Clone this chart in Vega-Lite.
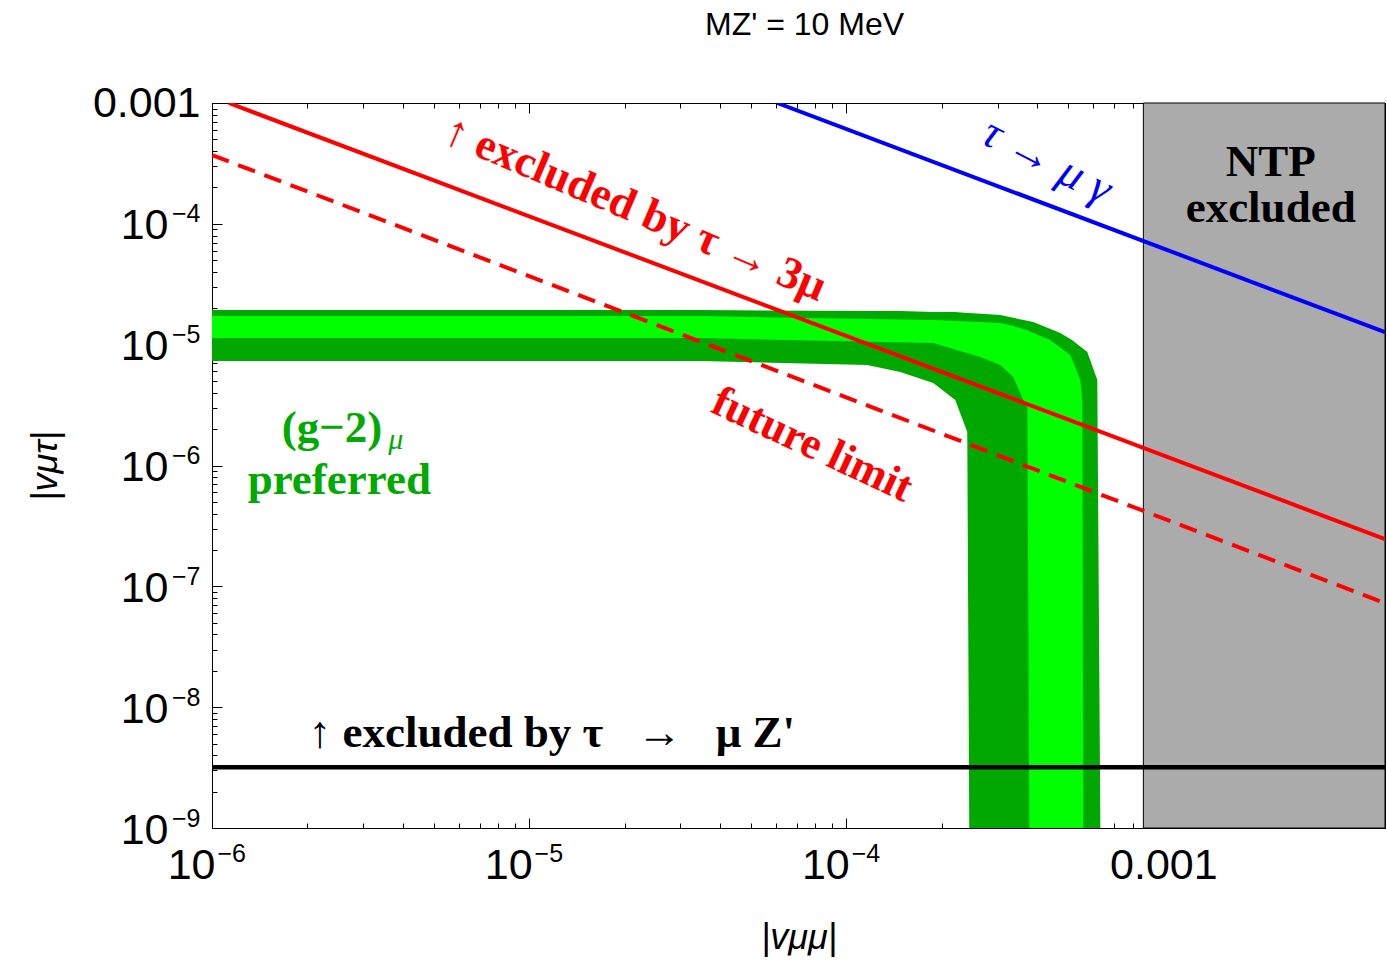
{
  "$schema": "https://vega.github.io/schema/vega-lite/v6.json",
  "width": 1173,
  "height": 725,
  "autosize": {"type": "none"},
  "padding": {"left": 212, "top": 103, "right": 2, "bottom": 142},
  "background": "white",
  "title": {"text": "MZ' = 10 MeV", "font": "Liberation Sans", "fontSize": 32, "fontWeight": "normal", "color": "black", "offset": 40, "anchor": "middle", "dx": 6},
  "config": {"view": {"stroke": "black", "strokeWidth": 1}},
  "resolve": {"axis": {"x": "independent", "y": "independent"}},
  "layer": [
    {
      "data": {"values": [{"x": 0.000865, "x2": 0.005}]},
      "mark": {"type": "rect", "color": "#ababab", "stroke": "black", "strokeWidth": 1},
      "encoding": {
        "x": {"field": "x", "type": "quantitative", "scale": {"type": "log", "domain": [1e-6, 0.005], "nice": false}, "axis": null},
        "x2": {"field": "x2"}
      }
    },
    {
      "data": {"values": [
        {"x": 1e-6, "top": 1.934e-5, "bottom": 7.31e-6},
        {"x": 3.46e-5, "top": 1.934e-5, "bottom": 7.31e-6},
        {"x": 1.165e-4, "top": 1.897e-5, "bottom": 6.78e-6},
        {"x": 1.48e-4, "top": 1.897e-5, "bottom": 5.93e-6},
        {"x": 1.882e-4, "top": 1.862e-5, "bottom": 4.81e-6},
        {"x": 2.207e-4, "top": 1.862e-5, "bottom": 3.48e-6},
        {"x": 2.408e-4, "top": 1.826e-5, "bottom": 1.89e-6},
        {"x": 2.443e-4, "top": 1.826e-5, "bottom": 1e-9},
        {"x": 3.061e-4, "top": 1.758e-5, "bottom": 1e-9},
        {"x": 3.89e-4, "top": 1.538e-5, "bottom": 1e-9},
        {"x": 4.732e-4, "top": 1.247e-5, "bottom": 1e-9},
        {"x": 5.15e-4, "top": 1.092e-5, "bottom": 1e-9},
        {"x": 5.758e-4, "top": 8.7e-6, "bottom": 1e-9},
        {"x": 6.191e-4, "top": 5.09e-6, "bottom": 1e-9},
        {"x": 6.33e-4, "top": 1e-9, "bottom": 1e-9}
      ]},
      "mark": {"type": "area", "color": "#00a800", "clip": true},
      "encoding": {
        "x": {"field": "x", "type": "quantitative", "scale": {"type": "log", "domain": [1e-6, 0.005], "nice": false},
          "axis": {
            "orient": "bottom",
            "values": [1e-6,2e-6,3e-6,4e-6,5e-6,6e-6,7e-6,8e-6,9e-6,1e-5,2e-5,3e-5,4e-5,5e-5,6e-5,7e-5,8e-5,9e-5,1e-4,2e-4,3e-4,4e-4,5e-4,6e-4,7e-4,8e-4,9e-4,1e-3,2e-3,3e-3,4e-3,5e-3],
            "labelExpr": "abs(log(datum.value)/LN10 - round(log(datum.value)/LN10)) > 0.001 ? '' : (round(log(datum.value)/LN10) == -3 ? '0.001' : '10')",
            "labelFont": "Liberation Sans", "labelFontSize": 43, "labelColor": "black",
            "labelAlign": {"condition": {"test": "datum.value > 0.0009", "value": "center"}, "value": "right"},
            "labelOffset": {"condition": {"test": "datum.value > 0.0009", "value": 0}, "value": 3},
            "labelPadding": 26, "labelFlush": false, "labelOverlap": false,
            "tickColor": "black", "tickWidth": 1,
            "tickSize": {"condition": {"test": "abs(log(datum.value)/LN10 - round(log(datum.value)/LN10)) < 0.001", "value": -10}, "value": -5},
            "domainColor": "black", "grid": false,
            "title": "|vμμ|", "titleFont": "Liberation Sans", "titleFontSize": 36, "titleFontWeight": "normal", "titleFontStyle": "italic", "titleColor": "black", "titlePadding": 28
          }},
        "y": {"field": "top", "type": "quantitative", "scale": {"type": "log", "domain": [1e-9, 0.001], "nice": false},
          "axis": {
            "orient": "left",
            "values": [1e-9,2e-9,3e-9,4e-9,5e-9,6e-9,7e-9,8e-9,9e-9,1e-8,2e-8,3e-8,4e-8,5e-8,6e-8,7e-8,8e-8,9e-8,1e-7,2e-7,3e-7,4e-7,5e-7,6e-7,7e-7,8e-7,9e-7,1e-6,2e-6,3e-6,4e-6,5e-6,6e-6,7e-6,8e-6,9e-6,1e-5,2e-5,3e-5,4e-5,5e-5,6e-5,7e-5,8e-5,9e-5,1e-4,2e-4,3e-4,4e-4,5e-4,6e-4,7e-4,8e-4,9e-4,1e-3],
            "labelExpr": "abs(log(datum.value)/LN10 - round(log(datum.value)/LN10)) > 0.001 ? '' : (round(log(datum.value)/LN10) == -3 ? '' : '10')",
            "labelFont": "Liberation Sans", "labelFontSize": 43, "labelColor": "black",
            "labelPadding": 54, "labelOffset": 2, "labelFlush": false, "labelOverlap": false,
            "tickColor": "black", "tickWidth": 1,
            "tickSize": {"condition": {"test": "abs(log(datum.value)/LN10 - round(log(datum.value)/LN10)) < 0.001", "value": -10}, "value": -5},
            "domainColor": "black", "grid": false,
            "title": "|vμτ|", "titleFont": "Liberation Sans", "titleFontSize": 36, "titleFontWeight": "normal", "titleFontStyle": "italic", "titleColor": "black", "titlePadding": 56
          }},
        "y2": {"field": "bottom"}
      }
    },
    {
      "data": {"values": [
        {"x": 1e-6, "top": 1.725e-5, "bottom": 1.134e-5},
        {"x": 3.46e-5, "top": 1.725e-5, "bottom": 1.134e-5},
        {"x": 1.882e-4, "top": 1.597e-5, "bottom": 1.031e-5},
        {"x": 2.647e-4, "top": 1.538e-5, "bottom": 7.89e-6},
        {"x": 3.061e-4, "top": 1.509e-5, "bottom": 6.78e-6},
        {"x": 3.364e-4, "top": 1.426e-5, "bottom": 5.39e-6},
        {"x": 3.617e-4, "top": 1.346e-5, "bottom": 3.48e-6},
        {"x": 3.724e-4, "top": 1.321e-5, "bottom": 3.04e-6},
        {"x": 3.778e-4, "top": 1.296e-5, "bottom": 1e-9},
        {"x": 3.89e-4, "top": 1.247e-5, "bottom": 1e-9},
        {"x": 4.4e-4, "top": 1.092e-5, "bottom": 1e-9},
        {"x": 5.088e-4, "top": 8.2e-6, "bottom": 1e-9},
        {"x": 5.473e-4, "top": 5.09e-6, "bottom": 1e-9},
        {"x": 5.554e-4, "top": 3.48e-6, "bottom": 1e-9},
        {"x": 5.594e-4, "top": 1e-9, "bottom": 1e-9}
      ]},
      "mark": {"type": "area", "color": "#00ff00", "clip": true},
      "encoding": {
        "x": {"field": "x", "type": "quantitative", "scale": {"type": "log", "domain": [1e-6, 0.005], "nice": false},
          "axis": {
            "orient": "bottom",
            "values": [1e-6, 1e-5, 1e-4],
            "labelExpr": "'−' + (-round(log(datum.value)/LN10))",
            "labelFont": "Liberation Sans", "labelFontSize": 25, "labelColor": "black",
            "labelAlign": "left", "labelOffset": 5,
            "labelPadding": 13, "labelFlush": false, "labelOverlap": false,
            "ticks": false, "domain": false, "grid": false, "title": null
          }},
        "y": {"field": "top", "type": "quantitative", "scale": {"type": "log", "domain": [1e-9, 0.001], "nice": false},
          "axis": {
            "orient": "left",
            "values": [1e-9, 1e-8, 1e-7, 1e-6, 1e-5, 1e-4, 1e-3],
            "labelExpr": "datum.value > 0.0009 ? '0.001' : '−' + (-round(log(datum.value)/LN10))",
            "labelFont": "Liberation Sans", "labelColor": "black",
            "labelFontSize": {"condition": {"test": "datum.value > 0.0009", "value": 43}, "value": 25},
            "labelOffset": {"condition": {"test": "datum.value > 0.0009", "value": 0}, "value": -10},
            "labelPadding": 12, "labelFlush": false, "labelOverlap": false,
            "ticks": false, "domain": false, "grid": false, "title": null
          }},
        "y2": {"field": "bottom"}
      }
    },
    {
      "data": {"values": [{"x": 1e-6, "y": 3.19e-9}, {"x": 0.005, "y": 3.19e-9}]},
      "mark": {"type": "line", "color": "black", "strokeWidth": 4.5, "clip": true},
      "encoding": {
        "x": {"field": "x", "type": "quantitative", "scale": {"type": "log", "domain": [1e-6, 0.005], "nice": false},
          "axis": {
            "orient": "top", "labels": false, "domain": false, "grid": false, "title": null,
            "values": [1e-6,2e-6,3e-6,4e-6,5e-6,6e-6,7e-6,8e-6,9e-6,1e-5,2e-5,3e-5,4e-5,5e-5,6e-5,7e-5,8e-5,9e-5,1e-4,2e-4,3e-4,4e-4,5e-4,6e-4,7e-4,8e-4,9e-4,1e-3,2e-3,3e-3,4e-3,5e-3],
            "tickColor": "black", "tickWidth": 1,
            "tickSize": {"condition": {"test": "abs(log(datum.value)/LN10 - round(log(datum.value)/LN10)) < 0.001", "value": -10}, "value": -5}
          }},
        "y": {"field": "y", "type": "quantitative", "scale": {"type": "log", "domain": [1e-9, 0.001], "nice": false},
          "axis": {
            "orient": "right", "labels": false, "domain": false, "grid": false, "title": null,
            "values": [1e-9,2e-9,3e-9,4e-9,5e-9,6e-9,7e-9,8e-9,9e-9,1e-8,2e-8,3e-8,4e-8,5e-8,6e-8,7e-8,8e-8,9e-8,1e-7,2e-7,3e-7,4e-7,5e-7,6e-7,7e-7,8e-7,9e-7,1e-6,2e-6,3e-6,4e-6,5e-6,6e-6,7e-6,8e-6,9e-6,1e-5,2e-5,3e-5,4e-5,5e-5,6e-5,7e-5,8e-5,9e-5,1e-4,2e-4,3e-4,4e-4,5e-4,6e-4,7e-4,8e-4,9e-4,1e-3],
            "tickColor": "black", "tickWidth": 1,
            "tickSize": {"condition": {"test": "abs(log(datum.value)/LN10 - round(log(datum.value)/LN10)) < 0.001", "value": -10}, "value": -5}
          }}
      }
    },
    {
      "data": {"values": [{"x": 1e-6, "y": 3.71e-4}, {"x": 0.005, "y": 7.26e-8}]},
      "mark": {"type": "line", "color": "#ff0000", "strokeWidth": 4, "strokeDash": [18, 10], "clip": true},
      "encoding": {
        "x": {"field": "x", "type": "quantitative", "scale": {"type": "log", "domain": [1e-6, 0.005], "nice": false}, "axis": null},
        "y": {"field": "y", "type": "quantitative", "scale": {"type": "log", "domain": [1e-9, 0.001], "nice": false}, "axis": null}
      }
    },
    {
      "data": {"values": [{"x": 1.13e-6, "y": 0.001}, {"x": 0.005, "y": 2.46e-7}]},
      "mark": {"type": "line", "color": "#ff0000", "strokeWidth": 4, "clip": true},
      "encoding": {
        "x": {"field": "x", "type": "quantitative", "scale": {"type": "log", "domain": [1e-6, 0.005], "nice": false}, "axis": null},
        "y": {"field": "y", "type": "quantitative", "scale": {"type": "log", "domain": [1e-9, 0.001], "nice": false}, "axis": null}
      }
    },
    {
      "data": {"values": [{"x": 6.06e-5, "y": 0.001}, {"x": 0.005, "y": 1.27e-5}]},
      "mark": {"type": "line", "color": "#0000ff", "strokeWidth": 4, "clip": true},
      "encoding": {
        "x": {"field": "x", "type": "quantitative", "scale": {"type": "log", "domain": [1e-6, 0.005], "nice": false}, "axis": null},
        "y": {"field": "y", "type": "quantitative", "scale": {"type": "log", "domain": [1e-9, 0.001], "nice": false}, "axis": null}
      }
    },
    {
      "data": {"values": [{"x": 2.16e-5, "y": 1.34e-4, "label": "↑ excluded by τ → 3μ"}]},
      "mark": {"type": "text", "font": "Liberation Serif", "fontWeight": "bold", "fontSize": 45, "color": "#ff0000", "angle": 23, "align": "center", "baseline": "middle"},
      "encoding": {
        "x": {"field": "x", "type": "quantitative", "scale": {"type": "log", "domain": [1e-6, 0.005], "nice": false}, "axis": null},
        "y": {"field": "y", "type": "quantitative", "scale": {"type": "log", "domain": [1e-9, 0.001], "nice": false}, "axis": null},
        "text": {"field": "label"}
      }
    },
    {
      "data": {"values": [{"x": 7.81e-5, "y": 1.475e-6, "label": "future limit"}]},
      "mark": {"type": "text", "font": "Liberation Serif", "fontWeight": "bold", "fontSize": 44, "color": "#ff0000", "angle": 25, "align": "center", "baseline": "middle"},
      "encoding": {
        "x": {"field": "x", "type": "quantitative", "scale": {"type": "log", "domain": [1e-6, 0.005], "nice": false}, "axis": null},
        "y": {"field": "y", "type": "quantitative", "scale": {"type": "log", "domain": [1e-9, 0.001], "nice": false}, "axis": null},
        "text": {"field": "label"}
      }
    },
    {
      "data": {"values": [{"x": 4.3e-4, "y": 3.3e-4, "label": "τ → μ γ"}]},
      "mark": {"type": "text", "font": "Liberation Serif", "fontStyle": "italic", "fontSize": 46, "color": "#0000ff", "angle": 27, "align": "center", "baseline": "middle"},
      "encoding": {
        "x": {"field": "x", "type": "quantitative", "scale": {"type": "log", "domain": [1e-6, 0.005], "nice": false}, "axis": null},
        "y": {"field": "y", "type": "quantitative", "scale": {"type": "log", "domain": [1e-9, 0.001], "nice": false}, "axis": null},
        "text": {"field": "label"}
      }
    },
    {
      "data": {"values": [
        {"x": 2.18e-3, "y": 3.25e-4, "label": "NTP"},
        {"x": 2.18e-3, "y": 1.35e-4, "label": "excluded"},
        {"x": 1.18e-5, "y": 6.1e-9, "label": "↑ excluded by τ \u2002→\u2002 μ Z'"}
      ]},
      "mark": {"type": "text", "font": "Liberation Serif", "fontWeight": "bold", "fontSize": 45, "color": "black", "align": "center", "baseline": "middle"},
      "encoding": {
        "x": {"field": "x", "type": "quantitative", "scale": {"type": "log", "domain": [1e-6, 0.005], "nice": false}, "axis": null},
        "y": {"field": "y", "type": "quantitative", "scale": {"type": "log", "domain": [1e-9, 0.001], "nice": false}, "axis": null},
        "text": {"field": "label"}
      }
    },
    {
      "data": {"values": [
        {"x": 2.39e-6, "y": 2.04e-6, "label": "(g−2)"},
        {"x": 2.52e-6, "y": 7.57e-7, "label": "preferred"}
      ]},
      "mark": {"type": "text", "font": "Liberation Serif", "fontWeight": "bold", "fontSize": 45, "color": "#00aa00", "align": "center", "baseline": "middle"},
      "encoding": {
        "x": {"field": "x", "type": "quantitative", "scale": {"type": "log", "domain": [1e-6, 0.005], "nice": false}, "axis": null},
        "y": {"field": "y", "type": "quantitative", "scale": {"type": "log", "domain": [1e-9, 0.001], "nice": false}, "axis": null},
        "text": {"field": "label"}
      }
    },
    {
      "data": {"values": [{"x": 3.8e-6, "y": 1.62e-6, "label": "μ"}]},
      "mark": {"type": "text", "font": "Liberation Serif", "fontStyle": "italic", "fontSize": 30, "color": "#00aa00", "align": "center", "baseline": "middle"},
      "encoding": {
        "x": {"field": "x", "type": "quantitative", "scale": {"type": "log", "domain": [1e-6, 0.005], "nice": false}, "axis": null},
        "y": {"field": "y", "type": "quantitative", "scale": {"type": "log", "domain": [1e-9, 0.001], "nice": false}, "axis": null},
        "text": {"field": "label"}
      }
    }
  ]
}
